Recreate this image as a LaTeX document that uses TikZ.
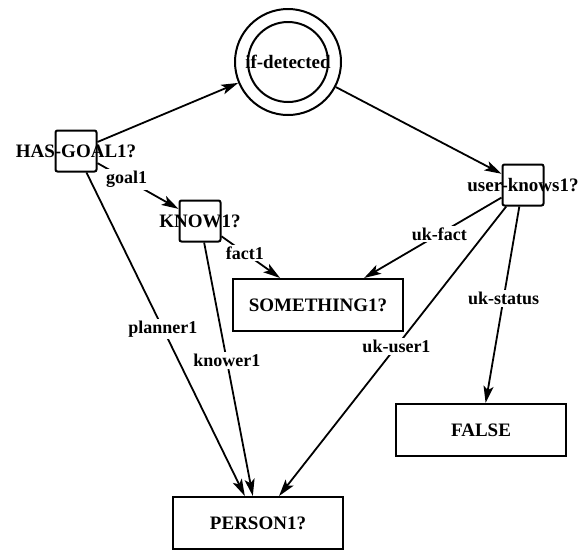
\documentclass[tikz,border=0pt]{standalone}
\usepackage{fontspec}
\setmainfont{Liberation Serif}
\usetikzlibrary{arrows.meta}
\begin{document}
\begin{tikzpicture}[x=1pt,y=-1pt,
  every node/.style={font=\fontsize{19}{21}\selectfont\bfseries},
  sq/.style={draw, line width=2pt, minimum size=41pt, inner sep=0pt, rounded corners=2pt},
  bx/.style={draw, line width=2pt, minimum width=170pt, minimum height=52pt, inner sep=0pt},
  circ/.style={draw, circle, line width=2pt, inner sep=0pt},
  txt/.style={inner sep=0pt},
  arr/.style={line width=1.8pt, -{Stealth[length=17pt,width=10pt,inset=4pt]}},
  lbl/.style={fill=white, inner sep=2pt, font=\fontsize{18}{20}\selectfont\bfseries},
]
\useasboundingbox (0,0) rectangle (580,550);

% double circle
\node[circ, minimum size=106pt] (ifd) at (288,62) {};
\node[circ, minimum size=80pt] (ifdin) at (ifd.center) {};
\node[txt] (ifdt) at (ifd.center) {if-detected};

% small square nodes
\node[sq] (hg) at (76,151) {};
\node[txt] (hgt) at (hg.center) {HAS-GOAL1?};
\node[sq] (kn) at (200,221) {};
\node[txt] (knt) at (kn.center) {KNOW1?};
\node[sq] (uk) at (523,185) {};
\node[txt] (ukt) at (uk.center) {user-knows1?};

% rectangular boxes
\node[bx] (sth) at (318,305) {SOMETHING1?};
\node[bx] (fls) at (481,430) {FALSE};
\node[bx] (per) at (258,523) {PERSON1?};

% connectors
\draw[arr] (hg) -- (ifd);
\draw[arr] (ifd) -- (uk);
\draw[arr] (hg) -- node[lbl, pos=0.36] (lgoal) {goal1} (kn);
\draw[arr] (kn) -- node[lbl, pos=0.40] (lfact) {fact1} (sth);
\draw[arr] (kn) -- node[lbl, pos=0.465] (lknow) {knower1} (per);
\draw[arr] (hg) -- node[lbl, pos=0.483] (lplan) {planner1} (per);
\draw[arr] (uk) -- node[lbl, pos=0.453] (lukf) {uk-fact} (sth);
\draw[arr] (uk) -- node[lbl, pos=0.483] (luku) {uk-user1} (per);
\draw[arr] (uk) -- node[lbl, pos=0.467] (luks) {uk-status} (fls);
\end{tikzpicture}
\end{document}
